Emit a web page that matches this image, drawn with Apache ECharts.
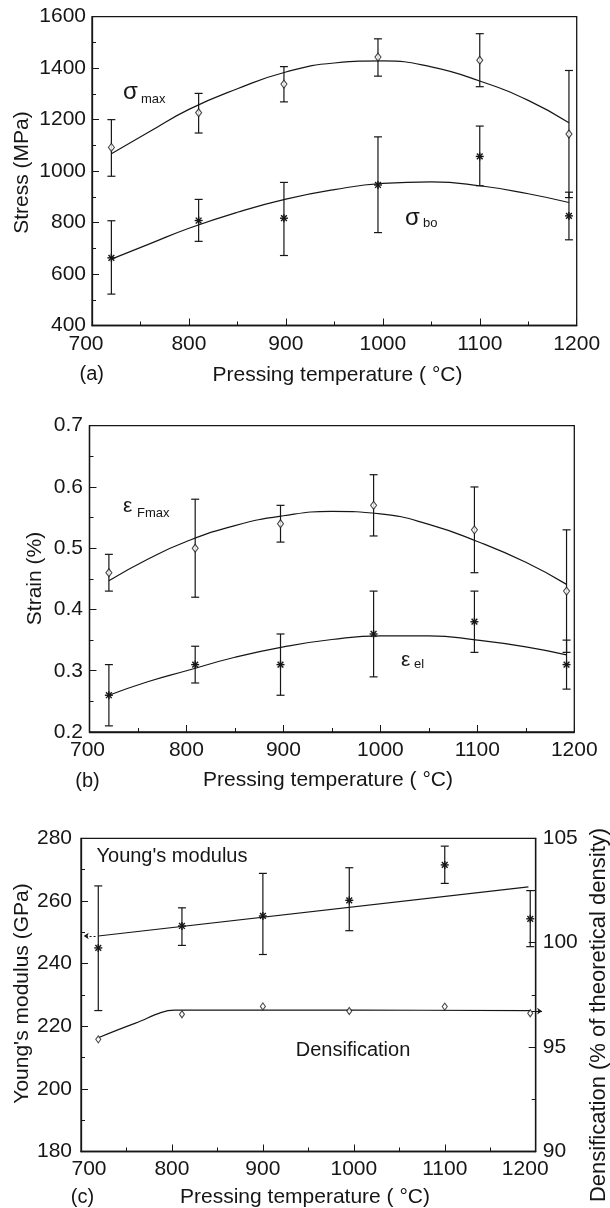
<!DOCTYPE html>
<html><head><meta charset="utf-8">
<script src="https://cdn.jsdelivr.net/npm/echarts@6/dist/echarts.min.js"></script>
<style>html,body{margin:0;padding:0;background:#fff}#c{width:610px;height:1208px}</style>
</head><body><div id="c"></div>
<script>
// ---------- Panel (a): stress ----------
const tempA = [720, 810, 898, 995, 1100, 1192];
const sigmaMax = [1092, 1227, 1338, 1443, 1431, 1144];
const sigmaMaxLow = [980, 1148, 1269, 1369, 1328, 897];
const sigmaMaxHigh = [1200, 1302, 1406, 1514, 1534, 1391];
const sigmaBo = [663, 808, 817, 946, 1057, 826];
const sigmaBoLow = [522, 727, 672, 761, 943, 733];
const sigmaBoHigh = [807, 890, 956, 1133, 1175, 918];
const fitTempA = [720, 760, 800, 850, 900, 950, 1000, 1050, 1100, 1150, 1192];
const sigmaMaxFit = [1067, 1155, 1240, 1320, 1385, 1420, 1428, 1405, 1350, 1275, 1188];
const sigmaBoFit = [658, 718, 778, 840, 891, 928, 952, 958, 943, 912, 878];

// ---------- Panel (b): strain ----------
const tempB = [720, 809, 897, 993, 1097, 1192];
const epsFmax = [0.46, 0.50, 0.54, 0.57, 0.53, 0.43];
const epsFmaxLow = [0.43, 0.42, 0.51, 0.52, 0.46, 0.33];
const epsFmaxHigh = [0.49, 0.58, 0.57, 0.62, 0.60, 0.53];
const epsEl = [0.26, 0.31, 0.31, 0.36, 0.38, 0.31];
const epsElLow = [0.21, 0.28, 0.26, 0.29, 0.33, 0.27];
const epsElHigh = [0.31, 0.34, 0.36, 0.43, 0.43, 0.35];
const fitTempB = [720, 760, 800, 850, 900, 950, 1000, 1050, 1100, 1150, 1192];
const epsFmaxFit = [0.447, 0.482, 0.511, 0.537, 0.553, 0.560, 0.556, 0.539, 0.511, 0.477, 0.441];
const epsElFit = [0.260, 0.282, 0.300, 0.322, 0.339, 0.351, 0.357, 0.357, 0.350, 0.339, 0.326];

// ---------- Panel (c): Young's modulus & densification ----------
const tempC = [719, 811, 900, 995, 1100, 1194];
const youngs = [245, 252, 255.2, 260.2, 271.5, 254.3];
const youngsLow = [225, 245.8, 242.9, 250.5, 265.6, 245.4];
const youngsHigh = [264.8, 257.8, 268.8, 270.6, 277.5, 263.3];
const youngsFitT = [719, 1192];
const youngsFit = [248.8, 264.5];
const density = [95.37, 96.57, 96.95, 96.73, 96.94, 96.62];
const densityFitT = [719, 760, 803, 1000, 1194];
const densityFit = [95.45, 96.15, 96.77, 96.77, 96.75];
const youngsArrow = [[716, 248.8], [703, 248.8]];
const densityArrow = [[1196, 96.72], [1207, 96.72]];

// tick labels
const tempTicks = [700, 800, 900, 1000, 1100, 1200];

const INK = '#161616';
const FONT = '"Liberation Sans", Arial, Helvetica, sans-serif';

const zip2 = (xs, ys) => xs.map((x, i) => [x, ys[i]]);
const zip3 = (xs, a, b) => xs.map((x, i) => [x, a[i], b[i]]);

function errBar(params, api) {
  const x = api.value(0);
  const lo = api.coord([x, api.value(1)]);
  const hi = api.coord([x, api.value(2)]);
  const w = 4;
  const st = { stroke: INK, lineWidth: 1.2 };
  return { type: 'group', children: [
    { type: 'line', shape: { x1: lo[0], y1: lo[1], x2: hi[0], y2: hi[1] }, style: st },
    { type: 'line', shape: { x1: lo[0] - w, y1: lo[1], x2: lo[0] + w, y2: lo[1] }, style: st },
    { type: 'line', shape: { x1: hi[0] - w, y1: hi[1], x2: hi[0] + w, y2: hi[1] }, style: st }
  ]};
}
function star(params, api) {
  const p = api.coord([api.value(0), api.value(1)]);
  const r = 4, d = r * 0.72;
  const st = { stroke: INK, lineWidth: 1.4 };
  return { type: 'group', children: [
    { type: 'line', shape: { x1: p[0] - r, y1: p[1], x2: p[0] + r, y2: p[1] }, style: st },
    { type: 'line', shape: { x1: p[0], y1: p[1] - r, x2: p[0], y2: p[1] + r }, style: st },
    { type: 'line', shape: { x1: p[0] - d, y1: p[1] - d, x2: p[0] + d, y2: p[1] + d }, style: st },
    { type: 'line', shape: { x1: p[0] - d, y1: p[1] + d, x2: p[0] + d, y2: p[1] - d }, style: st }
  ]};
}

function xAx(gi, margin, padL, padR) {
  return {
    type: 'value', gridIndex: gi, min: tempTicks[0], max: tempTicks[tempTicks.length - 1], interval: 100,
    axisLine: { show: true, onZero: false, lineStyle: { color: INK, width: 1.3 } },
    axisTick: { show: true, inside: true, length: 7, lineStyle: { color: INK, width: 1 } },
    minorTick: { show: true, splitNumber: 2, length: 4, lineStyle: { color: INK, width: 1 } },
    splitLine: { show: false },
    axisLabel: {
      color: INK, fontSize: 21, fontFamily: FONT, margin: margin,
      formatter: v => v === tempTicks[0] ? '{l|' + v + '}' : (v === tempTicks[tempTicks.length - 1] ? '{r|' + v + '}' : '{n|' + v + '}'),
      rich: {
        n: { fontSize: 21, fontFamily: FONT, color: INK },
        l: { fontSize: 21, fontFamily: FONT, color: INK, padding: [0, padL[1], 0, padL[0]] },
        r: { fontSize: 21, fontFamily: FONT, color: INK, padding: [0, padR[1], 0, padR[0]] }
      }
    }
  };
}
function yAx(gi, min, max, interval, margin, fmt, pos) {
  return {
    type: 'value', gridIndex: gi, min: min, max: max, interval: interval, position: pos || 'left',
    axisLine: { show: true, onZero: false, lineStyle: { color: INK, width: 1.3 } },
    axisTick: { show: true, inside: true, length: 7, lineStyle: { color: INK, width: 1 } },
    minorTick: { show: true, splitNumber: 2, length: 4, lineStyle: { color: INK, width: 1 } },
    splitLine: { show: false },
    axisLabel: { color: INK, fontSize: 21, fontFamily: FONT, margin: margin, formatter: fmt || (v => String(v)) }
  };
}

function fitLine(xi, yi, xs, ys, extra) {
  return Object.assign({ type: 'line', xAxisIndex: xi, yAxisIndex: yi, data: zip2(xs, ys), smooth: 0.5,
    showSymbol: false, symbol: 'none', lineStyle: { color: INK, width: 1.2 }, silent: true, z: 2 }, extra || {});
}
function errSeries(xi, yi, xs, lo, hi) {
  return { type: 'custom', xAxisIndex: xi, yAxisIndex: yi, renderItem: errBar,
    encode: { x: 0, y: [1, 2] }, data: zip3(xs, lo, hi), silent: true, z: 3 };
}
function starSeries(xi, yi, xs, ys) {
  return { type: 'custom', xAxisIndex: xi, yAxisIndex: yi, renderItem: star,
    encode: { x: 0, y: 1 }, data: zip2(xs, ys), silent: true, z: 4 };
}
function diamondSeries(xi, yi, xs, ys, size) {
  return { type: 'scatter', xAxisIndex: xi, yAxisIndex: yi, data: zip2(xs, ys), symbol: 'diamond',
    symbolSize: size, itemStyle: { color: '#fff', borderColor: INK, borderWidth: 1.1 }, silent: true, z: 4 };
}
function arrow(xi, yi, pts, dashed) {
  return { type: 'lines', coordinateSystem: 'cartesian2d', xAxisIndex: xi, yAxisIndex: yi, clip: false,
    symbol: ['none', 'arrow'], symbolSize: 5, silent: true,
    lineStyle: { color: INK, width: 1, type: dashed ? [2, 2] : 'solid', opacity: 1 },
    data: [{ coords: pts }] };
}

function txt(x, y, text, size, extra) {
  return Object.assign({ type: 'text', x: x, y: y, silent: true,
    style: { text: text, fill: INK, fontSize: size, fontFamily: FONT, textAlign: 'left', textVerticalAlign: 'middle' } }, extra || {});
}
function ctxt(x, y, text, size, rot) {
  return { type: 'text', x: x, y: y, rotation: rot || 0, silent: true,
    style: { text: text, fill: INK, fontSize: size, fontFamily: FONT, textAlign: 'center', textVerticalAlign: 'middle' } };
}

const chart = echarts.init(document.getElementById('c'), null, { renderer: 'canvas' });
const gridStyle = { show: true, borderColor: INK, borderWidth: 1.3, backgroundColor: 'transparent', containLabel: false };
chart.setOption({
  animation: false,
  backgroundColor: '#fff',
  grid: [
    Object.assign({ left: 92, top: 16.7, width: 484.7, height: 308.8 }, gridStyle),
    Object.assign({ left: 89.5, top: 425.7, width: 484.8, height: 306.3 }, gridStyle),
    Object.assign({ left: 81, top: 838.3, width: 454.7, height: 313.2 }, gridStyle)
  ],
  xAxis: [
    xAx(0, 8, [0, 12], [0, 0]),
    xAx(1, 7.5, [0, 4], [0, 0]),
    xAx(2, 7, [16, 0], [0, 21])
  ],
  yAxis: [
    yAx(0, 400, 1600, 200, 6),
    yAx(1, 0.2, 0.7, 0.1, 6.6, v => v.toFixed(1)),
    yAx(2, 180, 280, 20, 9),
    yAx(2, 90, 105, 5, 7, null, 'right')
  ],
  series: [
    fitLine(0, 0, fitTempA, sigmaMaxFit),
    fitLine(0, 0, fitTempA, sigmaBoFit),
    errSeries(0, 0, tempA, sigmaMaxLow, sigmaMaxHigh),
    errSeries(0, 0, tempA, sigmaBoLow, sigmaBoHigh),
    diamondSeries(0, 0, tempA, sigmaMax, [6, 8]),
    starSeries(0, 0, tempA, sigmaBo),

    fitLine(1, 1, fitTempB, epsFmaxFit),
    fitLine(1, 1, fitTempB, epsElFit),
    errSeries(1, 1, tempB, epsFmaxLow, epsFmaxHigh),
    errSeries(1, 1, tempB, epsElLow, epsElHigh),
    diamondSeries(1, 1, tempB, epsFmax, [6, 8]),
    starSeries(1, 1, tempB, epsEl),

    fitLine(2, 2, youngsFitT, youngsFit, { smooth: false }),
    fitLine(2, 3, densityFitT, densityFit, { smooth: 0.35 }),
    errSeries(2, 2, tempC, youngsLow, youngsHigh),
    starSeries(2, 2, tempC, youngs),
    diamondSeries(2, 3, tempC, density, [5, 7]),
    arrow(2, 2, youngsArrow, true),
    arrow(2, 3, densityArrow, false)
  ],
  graphic: [
    // axis titles
    ctxt(22.5, 172.5, 'Stress (MPa)', 21, Math.PI / 2),
    ctxt(337.5, 375.5, 'Pressing temperature ( °C)', 21),
    ctxt(91.7, 374.7, '(a)', 20),
    ctxt(35, 578.5, 'Strain (%)', 21, Math.PI / 2),
    ctxt(328, 780.5, 'Pressing temperature ( °C)', 21),
    ctxt(87.5, 781, '(b)', 20),
    ctxt(22.5, 993.5, "Young's modulus (GPa)", 21, Math.PI / 2),
    ctxt(599, 1015, 'Densification (% of theoretical density)', 22, Math.PI / 2),
    ctxt(305, 1197, 'Pressing temperature ( °C)', 21),
    ctxt(82.5, 1197, '(c)', 20),
    // curve annotations
    txt(123, 92, 'σ', 24),
    txt(141, 99.5, 'max', 13),
    txt(405, 218, 'σ', 24),
    txt(423, 223.5, 'bo', 13),
    txt(123, 506, 'ε', 21),
    txt(137, 513, 'Fmax', 13),
    txt(401, 660, 'ε', 21),
    txt(414, 664.5, 'el', 13),
    txt(96.5, 856, "Young's modulus", 20),
    ctxt(353, 1050, 'Densification', 20)
  ]
});
</script>
</body></html>
